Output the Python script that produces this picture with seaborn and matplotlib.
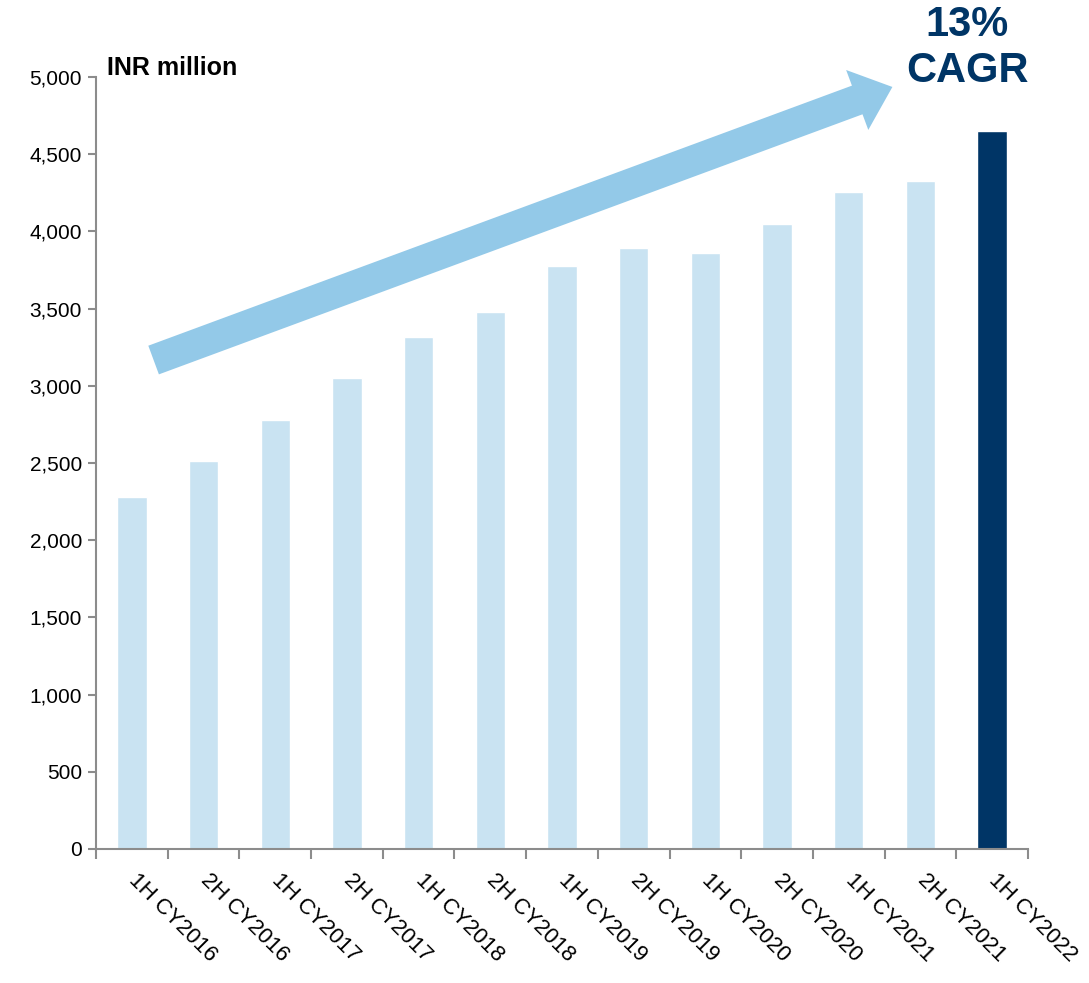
import matplotlib
matplotlib.use("Agg")
import matplotlib.pyplot as plt
import seaborn as sns
import pandas as pd
from matplotlib.patches import FancyArrowPatch
from matplotlib.ticker import FuncFormatter, FixedLocator

categories = ["1H CY2016", "2H CY2016", "1H CY2017", "2H CY2017", "1H CY2018",
              "2H CY2018", "1H CY2019", "2H CY2019", "1H CY2020", "2H CY2020",
              "1H CY2021", "2H CY2021", "1H CY2022"]
values = [2280, 2513, 2779, 3050, 3316, 3478, 3776, 3893, 3860, 4048, 4255, 4326, 4650]
highlight = ["1H CY2022"]
yticks = [0, 500, 1000, 1500, 2000, 2500, 3000, 3500, 4000, 4500, 5000]

LIGHT = "#C9E3F2"
DARK = "#003566"
ARROW = "#93C9E8"
GREY = "#8C8C8C"

sns.set_theme(style="white")
plt.rcParams["font.family"] = ["Liberation Sans", "DejaVu Sans"]

df = pd.DataFrame({"cat": categories, "val": values})
palette = {c: (DARK if c in highlight else LIGHT) for c in categories}

fig = plt.figure(figsize=(10.89, 9.83), dpi=100)
ax = fig.add_axes([96 / 1089, 1 - 849 / 983, (1028 - 96) / 1089, (849 - 77) / 983])

sns.barplot(data=df, x="cat", y="val", hue="cat", palette=palette, legend=False,
            width=0.41, saturation=1, ax=ax)

ax.set_xlim(-0.5, len(categories) - 0.5)
ax.set_ylim(0, 5000)
ax.set_yticks(yticks)
ax.yaxis.set_major_formatter(FuncFormatter(lambda v, p: f"{int(v):,}"))
ax.set_xlabel("")
ax.set_ylabel("")

for s in ["top", "right"]:
    ax.spines[s].set_visible(False)
for s in ["left", "bottom"]:
    ax.spines[s].set_color(GREY)
    ax.spines[s].set_linewidth(1.5)

ax.tick_params(axis="y", which="major", left=True, length=6, width=1.5, color=GREY,
               labelsize=15, labelcolor="black", pad=4)
ax.tick_params(axis="x", which="major", bottom=False, length=0, labelsize=16,
               labelcolor="black", pad=20)
ax.xaxis.set_minor_locator(FixedLocator([i - 0.5 for i in range(len(categories) + 1)]))
ax.tick_params(axis="x", which="minor", bottom=True, length=7, width=1.5, color=GREY)

for lab in ax.get_xticklabels():
    lab.set_rotation(-45)
    lab.set_ha("left")
    lab.set_va("center")
    lab.set_rotation_mode("anchor")

ax.text(0.012, 1.012, "INR million", transform=ax.transAxes, fontsize=18,
        fontweight="bold", color="black", ha="left", va="center")

# Growth arrow (decorative annotation)
arrow = FancyArrowPatch(posA=(151 / 1089, 1 - 361 / 983), posB=(895 / 1089, 1 - 86 / 983),
                        transform=fig.transFigure,
                        arrowstyle="simple,head_length=27,head_width=46,tail_width=22",
                        mutation_scale=1, color=ARROW, lw=0, clip_on=False)
fig.patches.append(arrow)

fig.text(967 / 1089, 1 - 48 / 983, "13%\nCAGR", fontsize=30, fontweight="bold",
         color=DARK, ha="center", va="center", linespacing=1.2)

fig.savefig("out.png", dpi=100)
